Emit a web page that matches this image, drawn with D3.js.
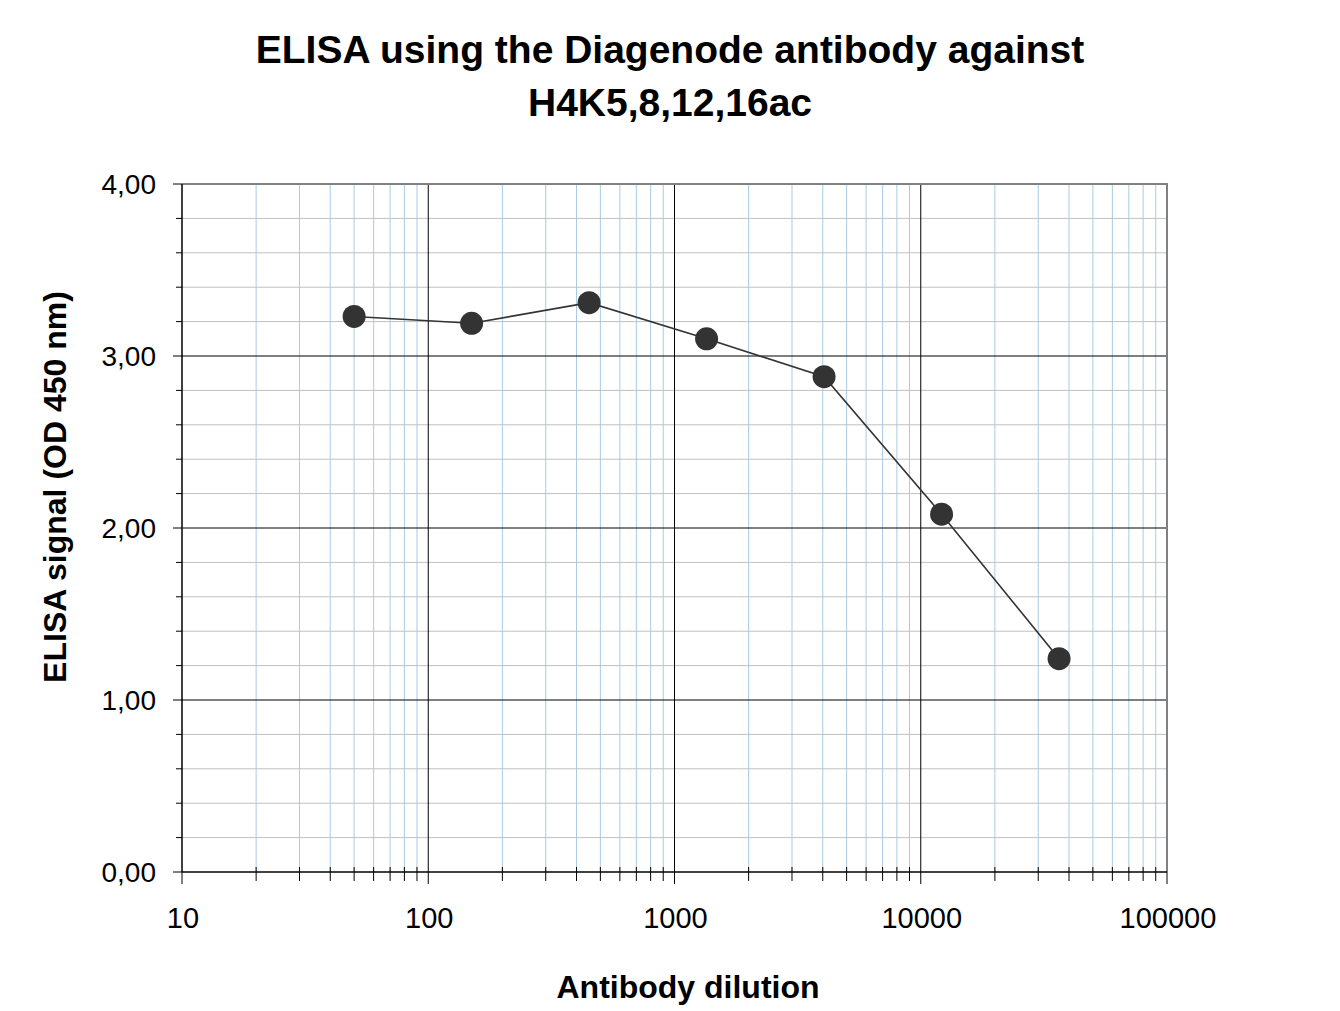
<!DOCTYPE html>
<html>
<head>
<meta charset="utf-8">
<script src="https://cdn.jsdelivr.net/npm/d3@7"></script>
<style>
  body { margin: 0; background: #fff; }
  svg { font-family: Arial, "Liberation Sans", sans-serif; }
</style>
</head>
<body>
<svg id="chart" width="1340" height="1011"></svg>
<script>
// data
const dilutions = [50, 150, 450, 1350, 4050, 12150, 36450];
const signals = [3.23, 3.19, 3.31, 3.10, 2.88, 2.08, 1.24];

const xTickValues = [10, 100, 1000, 10000, 100000];
const xTickLabels = ["10", "100", "1000", "10000", "100000"];
const yTickValues = [0, 1, 2, 3, 4];
const yTickLabels = ["0,00", "1,00", "2,00", "3,00", "4,00"];

const titleLines = ["ELISA using the Diagenode antibody against", "H4K5,8,12,16ac"];

let svg = d3.select("#chart");

let plotLeft = 182, plotRight = 1167, plotTop = 184, plotBottom = 872;

let xScale = d3.scaleLog().domain([10, 100000]).range([plotLeft, plotRight]);
let yScale = d3.scaleLinear().domain([0, 4]).range([plotBottom, plotTop]);

// minor x values 20..90, 200..900 etc
let minorX = [];
for (let dec = 10; dec < 100000; dec *= 10) {
    for (let k = 2; k <= 9; k++) minorX.push(dec * k);
}
let minorY = d3.range(0, 4.001, 0.2).filter(function (v) {
    return Math.abs(v - Math.round(v)) > 1e-6;
});

let grid = svg.append("g");

grid.selectAll(".vminor").data(minorX).enter().append("line")
    .attr("x1", d => xScale(d)).attr("x2", d => xScale(d))
    .attr("y1", plotTop).attr("y2", plotBottom)
    .attr("stroke", "#a9cbe6").attr("stroke-width", 1);

grid.selectAll(".hminor").data(minorY).enter().append("line")
    .attr("x1", plotLeft).attr("x2", plotRight)
    .attr("y1", d => yScale(d)).attr("y2", d => yScale(d))
    .attr("stroke", "#c0c0c0").attr("stroke-width", 1);

grid.selectAll(".vmajor").data(xTickValues.slice(1, -1)).enter().append("line")
    .attr("x1", d => xScale(d)).attr("x2", d => xScale(d))
    .attr("y1", plotTop).attr("y2", plotBottom)
    .attr("stroke", "#000").attr("stroke-width", 1);

grid.selectAll(".hmajor").data(yTickValues.slice(1, -1)).enter().append("line")
    .attr("x1", plotLeft).attr("x2", plotRight)
    .attr("y1", d => yScale(d)).attr("y2", d => yScale(d))
    .attr("stroke", "#000").attr("stroke-width", 1);

// top and right frame in grey
svg.append("line").attr("x1", plotLeft).attr("x2", plotRight + 1).attr("y1", plotTop).attr("y2", plotTop)
    .attr("stroke", "#808080").attr("stroke-width", 2);
svg.append("line").attr("x1", plotRight).attr("x2", plotRight).attr("y1", plotTop).attr("y2", plotBottom)
    .attr("stroke", "#808080").attr("stroke-width", 2);

// axes lines
svg.append("line").attr("x1", plotLeft).attr("x2", plotRight).attr("y1", plotBottom).attr("y2", plotBottom)
    .attr("stroke", "#000").attr("stroke-width", 1.5);
svg.append("line").attr("x1", plotLeft).attr("x2", plotLeft).attr("y1", plotTop).attr("y2", plotBottom)
    .attr("stroke", "#000").attr("stroke-width", 1.5);

// x ticks
svg.selectAll(".xminortick").data(minorX).enter().append("line")
    .attr("x1", d => xScale(d)).attr("x2", d => xScale(d))
    .attr("y1", plotBottom - 5).attr("y2", plotBottom + 9)
    .attr("stroke", "#000").attr("stroke-width", 1);
svg.selectAll(".xmajortick").data(xTickValues).enter().append("line")
    .attr("x1", d => xScale(d)).attr("x2", d => xScale(d))
    .attr("y1", plotBottom).attr("y2", plotBottom + 12)
    .attr("stroke", "#000").attr("stroke-width", 1);

// y ticks
svg.selectAll(".yminortick").data(minorY).enter().append("line")
    .attr("x1", plotLeft - 6).attr("x2", plotLeft)
    .attr("y1", d => yScale(d)).attr("y2", d => yScale(d))
    .attr("stroke", "#000").attr("stroke-width", 1);
svg.selectAll(".ymajortick").data(yTickValues).enter().append("line")
    .attr("x1", plotLeft - 9).attr("x2", plotLeft)
    .attr("y1", d => yScale(d)).attr("y2", d => yScale(d))
    .attr("stroke", "#000").attr("stroke-width", 1);

// tick labels
svg.selectAll(".xlabel").data(xTickValues).enter().append("text")
    .attr("x", d => xScale(d) + 1)
    .attr("y", plotBottom + 56)
    .attr("text-anchor", "middle")
    .attr("font-size", "29px")
    .text((d, i) => xTickLabels[i]);

svg.selectAll(".ylabel").data(yTickValues).enter().append("text")
    .attr("x", plotLeft - 26)
    .attr("y", d => yScale(d) + 9.5)
    .attr("text-anchor", "end")
    .attr("font-size", "28px")
    .text((d, i) => yTickLabels[i]);

// series
let line = d3.line()
    .x((d, i) => xScale(dilutions[i]))
    .y(d => yScale(d));

svg.append("path")
    .datum(signals)
    .attr("d", line)
    .attr("fill", "none")
    .attr("stroke", "#333")
    .attr("stroke-width", 1.6);

svg.selectAll(".dot").data(signals).enter().append("circle")
    .attr("cx", (d, i) => xScale(dilutions[i]))
    .attr("cy", d => yScale(d))
    .attr("r", 11.5)
    .attr("fill", "#333");

// titles
svg.selectAll(".title").data(titleLines).enter().append("text")
    .attr("x", 670)
    .attr("y", (d, i) => 63 + i * 53)
    .attr("text-anchor", "middle")
    .attr("font-size", "39px")
    .attr("font-weight", "bold")
    .text(d => d);

svg.append("text")
    .attr("x", 688)
    .attr("y", 998)
    .attr("text-anchor", "middle")
    .attr("font-size", "32px")
    .attr("font-weight", "bold")
    .text("Antibody dilution");

svg.append("text")
    .attr("transform", "translate(66,487) rotate(-90)")
    .attr("text-anchor", "middle")
    .attr("font-size", "32px")
    .attr("font-weight", "bold")
    .text("ELISA signal (OD 450 nm)");
</script>
</body>
</html>
